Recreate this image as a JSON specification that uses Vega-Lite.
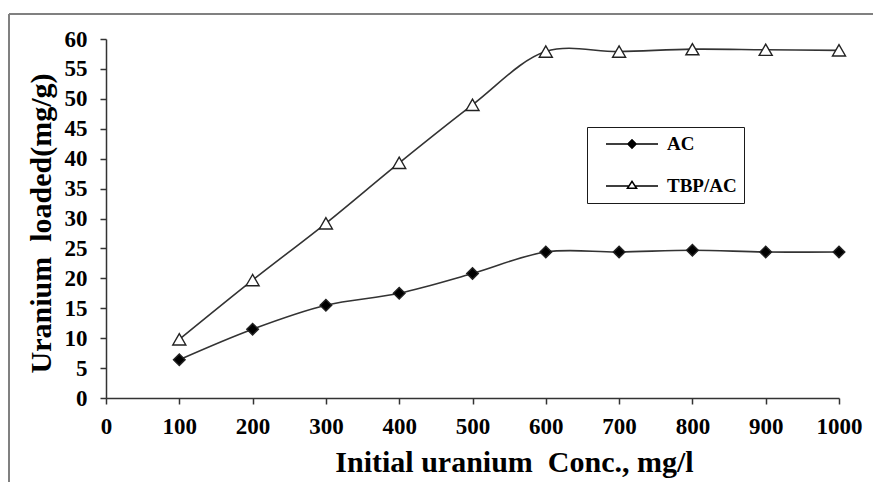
{
  "$schema": "https://vega.github.io/schema/vega-lite/v6.json",
  "width": 864,
  "height": 468,
  "autosize": {"type": "none"},
  "padding": {"left": 9, "top": 14, "right": 0, "bottom": 0},
  "background": "white",
  "config": {
    "font": "Liberation Serif",
    "view": {"stroke": "#808080", "strokeWidth": 2, "strokeDash": [864, 1332, 468, 0]},
    "axis": {
      "grid": false,
      "domainColor": "#333333",
      "domainWidth": 1.5,
      "tickColor": "#333333",
      "tickWidth": 1.5,
      "tickSize": 6,
      "labelFont": "Liberation Serif",
      "labelFontSize": 23,
      "labelFontWeight": "bold",
      "labelColor": "#000000",
      "labelFlush": false,
      "labelOverlap": false,
      "titleFont": "Liberation Serif",
      "titleFontSize": 30,
      "titleFontWeight": "bold",
      "titleColor": "#000000"
    }
  },
  "data": {
    "values": [
      {"conc": 100, "loaded": 6.4, "series": "AC"},
      {"conc": 200, "loaded": 11.5, "series": "AC"},
      {"conc": 300, "loaded": 15.5, "series": "AC"},
      {"conc": 400, "loaded": 17.5, "series": "AC"},
      {"conc": 500, "loaded": 20.8, "series": "AC"},
      {"conc": 600, "loaded": 24.4, "series": "AC"},
      {"conc": 700, "loaded": 24.4, "series": "AC"},
      {"conc": 800, "loaded": 24.7, "series": "AC"},
      {"conc": 900, "loaded": 24.4, "series": "AC"},
      {"conc": 1000, "loaded": 24.4, "series": "AC"},
      {"conc": 100, "loaded": 9.8, "series": "TBP/AC"},
      {"conc": 200, "loaded": 19.7, "series": "TBP/AC"},
      {"conc": 300, "loaded": 29.2, "series": "TBP/AC"},
      {"conc": 400, "loaded": 39.3, "series": "TBP/AC"},
      {"conc": 500, "loaded": 49.0, "series": "TBP/AC"},
      {"conc": 600, "loaded": 57.9, "series": "TBP/AC"},
      {"conc": 700, "loaded": 57.9, "series": "TBP/AC"},
      {"conc": 800, "loaded": 58.3, "series": "TBP/AC"},
      {"conc": 900, "loaded": 58.2, "series": "TBP/AC"},
      {"conc": 1000, "loaded": 58.1, "series": "TBP/AC"}
    ]
  },
  "encoding": {
    "x": {
      "field": "conc",
      "type": "quantitative",
      "scale": {"domain": [0, 1000], "range": [97, 830], "nice": false, "zero": false},
      "axis": {
        "orient": "bottom",
        "offset": -84,
        "values": [0, 100, 200, 300, 400, 500, 600, 700, 800, 900, 1000],
        "format": "d",
        "labelPadding": 11,
        "title": "Initial uranium\u00a0 Conc., mg/l",
        "titleX": 505,
        "titleY": 73,
        "titleAlign": "center",
        "titleBaseline": "alphabetic",
        "titleAnchor": null
      }
    },
    "y": {
      "field": "loaded",
      "type": "quantitative",
      "scale": {"domain": [0, 60], "range": [384, 25], "nice": false, "zero": false},
      "axis": {
        "orient": "left",
        "offset": -97,
        "values": [0, 5, 10, 15, 20, 25, 30, 35, 40, 45, 50, 55, 60],
        "labelPadding": 13,
        "title": "Uranium\u00a0 loaded(mg/g)",
        "titleAngle": -90,
        "titleX": -56,
        "titleY": 209,
        "titleAlign": "center",
        "titleBaseline": "alphabetic",
        "titleAnchor": null
      }
    }
  },
  "layer": [
    {
      "mark": {"type": "line", "interpolate": "catmull-rom", "color": "#333333", "strokeWidth": 1.6},
      "encoding": {"detail": {"field": "series"}}
    },
    {
      "mark": {"type": "point", "filled": true, "stroke": "#222222", "strokeWidth": 1.4, "opacity": 1},
      "encoding": {
        "shape": {
          "condition": {"test": "datum.series === 'AC'", "value": "diamond"},
          "value": "triangle-up"
        },
        "fill": {
          "condition": {"test": "datum.series === 'AC'", "value": "#000000"},
          "value": "#ffffff"
        },
        "size": {
          "condition": {"test": "datum.series === 'AC'", "value": 135},
          "value": 170
        }
      }
    },
    {
      "transform": [{"filter": "false"}],
      "mark": {"type": "point", "filled": true, "color": "#000000", "strokeWidth": 0, "opacity": 1},
      "encoding": {
        "shape": {
          "field": "series",
          "type": "nominal",
          "scale": {
            "domain": ["AC", "TBP/AC"],
            "range": [
              "M-1,-0.03H-0.12V0.03H-1ZM0.12,-0.03H1V0.03H0.12ZM-0.2,0L0,-0.2L0.2,0L0,0.2ZM4.46,0Z",
              "M-1,-0.03H-0.14V0.03H-1ZM0.14,-0.03H1V0.03H0.14ZM-0.23,0.12L0,-0.23L0.23,0.12ZM-0.119,0.06L0.119,0.06L0,-0.121ZM4.46,0Z"
            ]
          },
          "legend": {
            "orient": "none",
            "legendX": 578,
            "legendY": 113,
            "title": null,
            "strokeColor": "#1a1a1a",
            "padding": 7,
            "rowPadding": 22,
            "clipHeight": 20,
            "labelFont": "Liberation Serif",
            "labelFontSize": 19,
            "labelFontWeight": "bold",
            "labelColor": "#000000",
            "labelOffset": 9,
            "symbolOffset": 12,
            "symbolSize": 2704,
            "symbolFillColor": "#000000",
            "symbolStrokeWidth": 0,
            "symbolOpacity": 1
          }
        }
      }
    }
  ]
}
